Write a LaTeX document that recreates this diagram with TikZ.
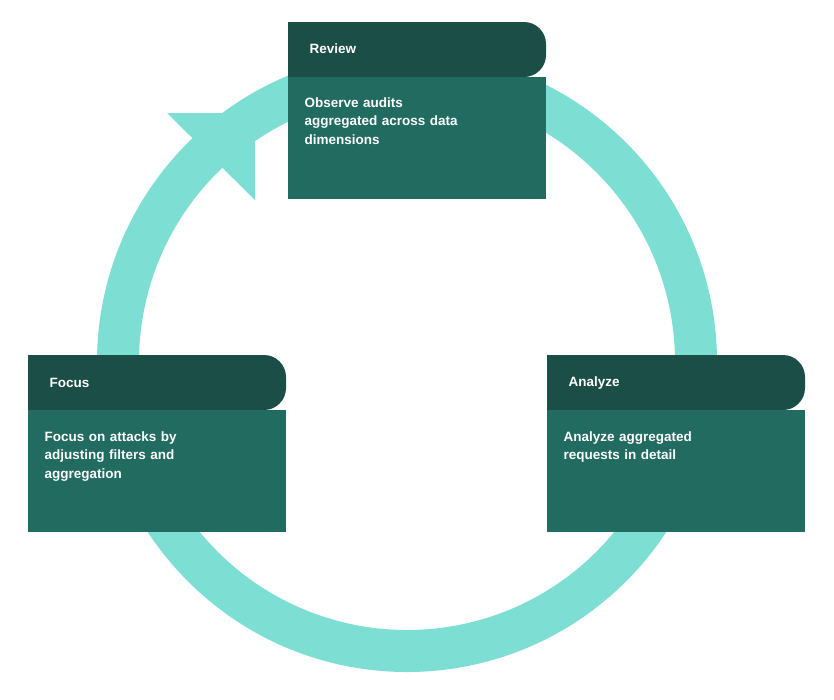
\documentclass[tikz,border=0pt]{standalone}
\usepackage{fontspec}
\setmainfont{Liberation Sans}
\begin{document}
\begin{tikzpicture}[x=1pt,y=-1pt,
  ring/.style={draw=ringc,line width=42pt},
  hdr/.style={fill=hdrc},
  body/.style={fill=bodyc},
  ttl/.style={text=white,font=\bfseries\fontsize{13.5}{16}\selectfont,anchor=west},
  txt/.style={text=white,font=\bfseries\fontsize{13.5}{18.5}\selectfont,anchor=north west,align=left,text width=200pt}]
\definecolor{ringc}{HTML}{7DDFD3}
\definecolor{hdrc}{HTML}{1A4E47}
\definecolor{bodyc}{HTML}{216B61}
\useasboundingbox (0,0) rectangle (834,699);
\coordinate (c) at (407,362);
% ring
\draw[ring] (c) ++(134:289) arc[start angle=134,end angle=-280,radius=289];
\fill[ringc] (167,113) -- (255,113) -- (255,200) -- cycle;
% boxes
\foreach \n/\x/\y in {rev/288/22, foc/28/355, ana/547/355}{
  \fill[hdrc,rounded corners=22pt] (\x,\y+55) |- (\x+258,\y) -- (\x+258,\y+55) -- cycle;
  \fill[hdrc] (\x,\y) rectangle (\x+30,\y+55);
  \fill[bodyc] (\x,\y+55) rectangle (\x+258,\y+177);
}
\node[ttl] (rt) at (306,49) {Review};
\node[txt] (rb) at (301,94) {Observe audits\\aggregated across data\\dimensions};
\node[ttl] (ft) at (46,383) {Focus};
\node[txt] (fb) at (41,428) {Focus on attacks by\\adjusting filters and\\aggregation};
\node[ttl] (at) at (565,383) {Analyze};
\node[txt] (ab) at (560,428) {Analyze aggregated\\requests in detail};
\end{tikzpicture}
\end{document}
